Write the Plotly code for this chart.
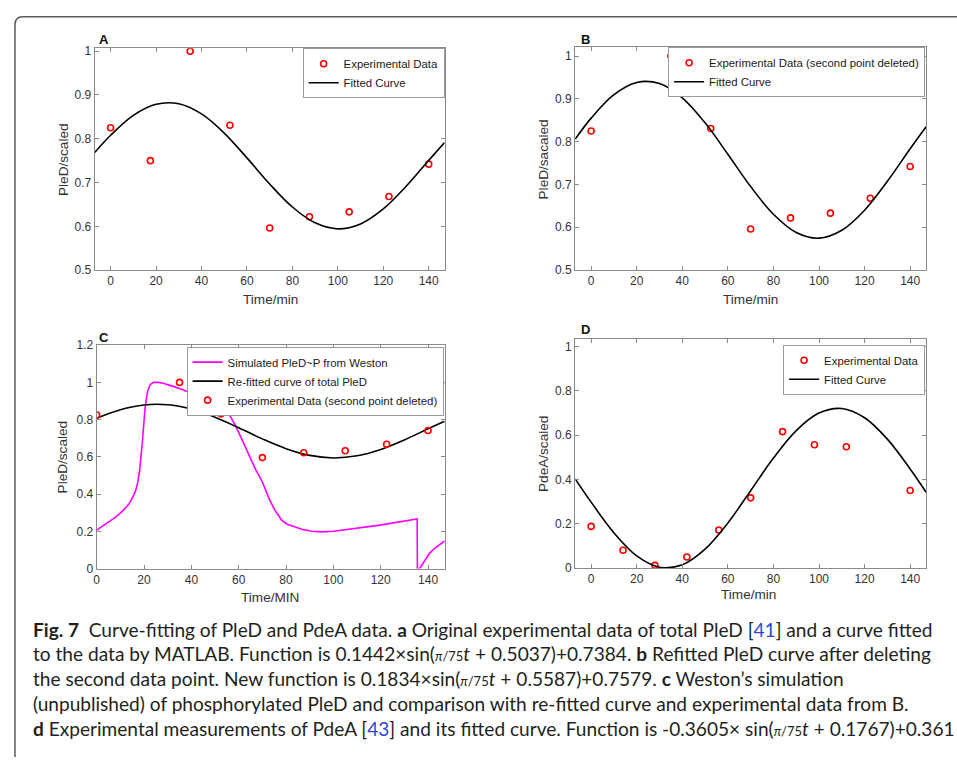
import plotly.graph_objects as go

W, H = 957, 764

# ---------------- data ----------------
exp_t = [0, 17.5, 35, 52.5, 70, 87.5, 105, 122.5, 140]
exp_pled = [0.825, 0.75, 1.0, 0.831, 0.596, 0.622, 0.633, 0.668, 0.742]

exp_t_b = [0, 35, 52.5, 70, 87.5, 105, 122.5, 140]
exp_pled_b = [0.825, 1.0, 0.831, 0.596, 0.622, 0.633, 0.668, 0.742]

curve_t = [-7, 0, 10, 20, 30, 40, 50, 60, 70, 80, 90, 100, 110, 120, 130, 140, 147]
curve_a = [0.7685, 0.8080, 0.8534, 0.8788, 0.8800, 0.8567, 0.8130, 0.7563, 0.6966,
           0.6441, 0.6079, 0.5942, 0.6055, 0.6398, 0.6911, 0.7506, 0.7916]
curve_b = [0.8060, 0.8551, 0.9100, 0.9385, 0.9359, 0.9024, 0.8440, 0.7707, 0.6951,
           0.6305, 0.5878, 0.5746, 0.5931, 0.6400, 0.7074, 0.7835, 0.8349]
curve_d = [0.4029, 0.2976, 0.1588, 0.0549, 0.0039, 0.0147, 0.0853, 0.2037, 0.3492,
           0.4968, 0.6209, 0.7000, 0.7206, 0.6789, 0.5823, 0.4475, 0.3426]

sim_t = [0, 4, 8, 11, 13.6, 15.5, 16.4, 17.3, 18.1, 19.3, 20.4, 21.2, 21.8, 22.7, 24.2,
         26, 27.7, 32, 36.1, 44.5, 52.9, 54.5, 55.8, 57.2, 58.6, 61.5, 64.2, 67, 70, 73,
         75.4, 77, 78.2, 80.5, 83.8, 87, 90.9, 95, 100, 104.9, 119, 135.4, 135.5, 136.5,
         137.5, 138.6, 140.5, 142.8, 145, 147]
sim_p = [0.206, 0.24, 0.276, 0.31, 0.346, 0.39, 0.417, 0.46, 0.523, 0.681, 0.857, 0.93,
         0.965, 0.99, 1.0, 1.0, 0.997, 0.98, 0.962, 0.919, 0.866, 0.852, 0.831, 0.80, 0.769,
         0.69, 0.61, 0.535, 0.465, 0.37, 0.311, 0.28, 0.259, 0.238, 0.222, 0.21, 0.2, 0.197,
         0.2, 0.208, 0.232, 0.266, 0.0, 0.0, 0.02, 0.047, 0.08, 0.109, 0.13, 0.148]

pdea_t = [0, 14, 28, 42, 56, 70, 84, 98, 112, 140]
pdea_v = [0.188, 0.080, 0.012, 0.050, 0.172, 0.317, 0.616, 0.557, 0.548, 0.350]

x_ticks = [0, 20, 40, 60, 80, 100, 120, 140]
x_ticklabels = ["0", "20", "40", "60", "80", "100", "120", "140"]
y_ticks_ab = [0.5, 0.6, 0.7, 0.8, 0.9, 1.0]
y_ticklabels_ab = ["0.5", "0.6", "0.7", "0.8", "0.9", "1"]
y_ticks_c = [0, 0.2, 0.4, 0.6, 0.8, 1.0, 1.2]
y_ticklabels_c = ["0", "0.2", "0.4", "0.6", "0.8", "1", "1.2"]
y_ticks_d = [0, 0.2, 0.4, 0.6, 0.8, 1.0]
y_ticklabels_d = ["0", "0.2", "0.4", "0.6", "0.8", "1"]

# ---------------- helpers ----------------
def px(x):
    return x / W

def py(y):
    return 1 - y / H

RED = "#ff0000"
BLACK = "#000000"
MAG = "#ff00ff"
AX = "#8a8a8a"
TXT = "#333333"
AFONT = "Arial, Liberation Sans, sans-serif"

fig = go.Figure()

def exp_trace(t, v, name, xa, ya, legend):
    return go.Scatter(x=t, y=v, mode="markers", name=name, xaxis=xa, yaxis=ya,
                      legend=legend,
                      marker=dict(symbol="circle-open", size=6, color=RED,
                                  line=dict(width=1.6, color=RED)))

def line_trace(t, v, name, xa, ya, legend, color=BLACK, shape="spline"):
    return go.Scatter(x=t, y=v, mode="lines", name=name, xaxis=xa, yaxis=ya,
                      legend=legend, line=dict(color=color, width=1.6, shape=shape))

# A
fig.add_trace(exp_trace(exp_t, exp_pled, "Experimental Data", "x", "y", "legend"))
fig.add_trace(line_trace(curve_t, curve_a, "Fitted Curve", "x", "y", "legend"))
# B
fig.add_trace(exp_trace(exp_t_b, exp_pled_b, "Experimental Data (second point deleted)", "x2", "y2", "legend2"))
fig.add_trace(line_trace(curve_t, curve_b, "Fitted Curve", "x2", "y2", "legend2"))
# C
fig.add_trace(line_trace(sim_t, sim_p, "Simulated PleD~P from Weston", "x3", "y3", "legend3", color=MAG, shape="linear"))
fig.add_trace(line_trace(curve_t, curve_a, "Re-fitted curve of total PleD", "x3", "y3", "legend3"))
fig.add_trace(exp_trace(exp_t_b, exp_pled_b, "Experimental Data (second point deleted)", "x3", "y3", "legend3"))
# D
fig.add_trace(exp_trace(pdea_t, pdea_v, "Experimental Data", "x4", "y4", "legend4"))
fig.add_trace(line_trace(curve_t, curve_d, "Fitted Curve", "x4", "y4", "legend4"))

TICKFONT = dict(family=AFONT, size=12, color=TXT)

def xaxis(dom, rng, anchor):
    return dict(domain=[px(dom[0]), px(dom[1])], range=rng, anchor=anchor,
                tickvals=x_ticks, ticktext=x_ticklabels, ticks="inside", ticklen=4,
                tickcolor=AX, showline=True, linecolor=AX, linewidth=1, mirror="ticks",
                showgrid=False, zeroline=False, tickfont=TICKFONT)

def yaxis(dom, rng, anchor, tv, tt):
    return dict(domain=[py(dom[1]), py(dom[0])], range=rng, anchor=anchor,
                tickvals=tv, ticktext=tt, ticks="inside", ticklen=4,
                tickcolor=AX, showline=True, linecolor=AX, linewidth=1, mirror="ticks",
                showgrid=False, zeroline=False, tickfont=TICKFONT)

def legend(xr, yt):
    return dict(x=px(xr), y=py(yt), xanchor="right", yanchor="top",
                bgcolor="white", bordercolor="#9a9a9a", borderwidth=1,
                font=dict(family=AFONT, size=11.4, color="#1a1a1a"),
                tracegroupgap=0, itemwidth=30)

fig.update_layout(
    width=W, height=H,
    margin=dict(l=0, r=0, t=0, b=0),
    paper_bgcolor="white", plot_bgcolor="white",
    showlegend=True,
    xaxis=xaxis([92, 443], [-7, 147], "y"),
    yaxis=yaxis([42, 268], [0.5, 1.0068], "x", y_ticks_ab, y_ticklabels_ab),
    xaxis2=xaxis([574, 926], [-7, 147], "y2"),
    yaxis2=yaxis([41, 268], [0.5, 1.0207], "x2", y_ticks_ab, y_ticklabels_ab),
    xaxis3=xaxis([94, 443], [0, 147], "y3"),
    yaxis3=yaxis([344.5, 572], [0, 1.2], "x3", y_ticks_c, y_ticklabels_c),
    xaxis4=xaxis([574, 926], [-7, 147], "y4"),
    yaxis4=yaxis([338, 571.5], [0, 1.0355], "x4", y_ticks_d, y_ticklabels_d),
    legend=legend(443, 42),
    legend2=legend(925, 41),
    legend3=legend(442, 346),
    legend4=legend(925, 344),
)

ann = []
def txt(x, y, s, size=13.6, bold=False, angle=0, xanchor="center", color=TXT, family=AFONT):
    ann.append(dict(x=px(x), y=py(y), xref="paper", yref="paper", text=(f"<b>{s}</b>" if bold else s),
                    showarrow=False, xanchor=xanchor, yanchor="middle", textangle=angle,
                    font=dict(family=family, size=size, color=color)))

# panel labels
txt(101, 33, "A", 13, True, color="#111")
txt(584, 33, "B", 13, True, color="#111")
txt(101, 337, "C", 13, True, color="#111")
txt(584, 329, "D", 13, True, color="#111")
# axis titles
txt(268, 298, "Time/min")
txt(750, 298, "Time/min")
txt(268, 602, "Time/MIN")
txt(748, 598, "Time/min")
txt(60, 155, "PleD/scaled", angle=-90)
txt(542, 155, "PleD/sacaled", angle=-90)
txt(60, 458, "PleD/scaled", angle=-90)
txt(542, 455, "PdeA/scaled", angle=-90)

LINK = "#2f45d6"
frac = "<span style='font-size:13px'><i>π</i>/75</span><i>t</i>"
caption = [
    f"<b>Fig. 7</b>  Curve-fitting of PleD and PdeA data. <b>a</b> Original experimental data of total PleD [<span style='color:{LINK}'>41</span>] and a curve fitted",
    f"to the data by MATLAB. Function is 0.1442×sin({frac} + 0.5037)+0.7384. <b>b</b> Refitted PleD curve after deleting",
    f"the second data point. New function is 0.1834×sin({frac} + 0.5587)+0.7579. <b>c</b> Weston’s simulation",
    "(unpublished) of phosphorylated PleD and comparison with re-fitted curve and experimental data from B.",
    f"<b>d</b> Experimental measurements of PdeA [<span style='color:{LINK}'>43</span>] and its fitted curve. Function is -0.3605× sin({frac} + 0.1767)+0.361",
]
cap_y = [634, 659, 684, 709, 735]
for s, y in zip(caption, cap_y):
    txt(28, y, s, 19.1, xanchor="left", color="#231f20", family="Lato, sans-serif")

fig.update_layout(annotations=ann)

# outer frame with rounded top-left corner
r = 8
path = (f"M {px(12)},{py(764)} L {px(12)},{py(10 + r)} "
        f"Q {px(12)},{py(10)} {px(12 + r)},{py(10)} L {px(957)},{py(10)}")
fig.add_shape(type="path", path=path, xref="paper", yref="paper",
              line=dict(color="#5a5a5a", width=1.5))

fig.write_html("out.html", config={"displayModeBar": False},
               post_script="document.body.style.margin='0px';document.body.style.overflow='hidden';")
